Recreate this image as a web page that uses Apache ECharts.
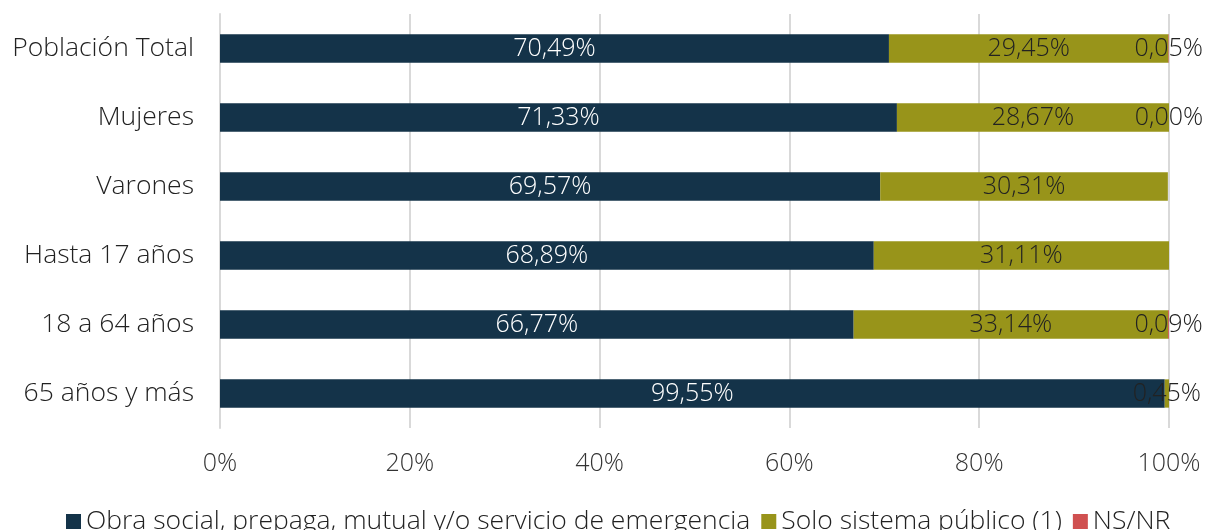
<!DOCTYPE html>
<html>
<head>
<meta charset="utf-8">
<script src="https://cdn.jsdelivr.net/npm/echarts@6/dist/echarts.min.js"></script>
<style>
  html, body { margin: 0; padding: 0; background: #fff; }
  #chart { width: 1208px; height: 530px; }
</style>
</head>
<body>
<div id="chart"></div>
<script>
    var categories = ['Población Total', 'Mujeres', 'Varones', 'Hasta 17 años', '18 a 64 años', '65 años y más'];
    var obraSocial = [70.49, 71.33, 69.57, 68.89, 66.77, 99.55];
    var soloPublico = [29.45, 28.67, 30.31, 31.11, 33.14, 0.45];
    var nsnr = [0.05, 0.00, null, null, 0.09, null];
    var tickLabels = ['0%', '20%', '40%', '60%', '80%', '100%'];

    var font = '"Open Sans", sans-serif';

    function pct(p) {
        return p.value.toFixed(2).replace('.', ',') + '%';
    }

    const option = {
        animation: false,
        textStyle: { fontFamily: font, fontWeight: 300 },
        grid: {
            left: 220,
            right: 39,
            top: 14,
            bottom: 102
        },
        legend: {
            left: 61,
            top: 503,
            itemWidth: 15,
            itemHeight: 15,
            itemGap: 11,
            icon: 'rect',
            textStyle: { fontFamily: font, fontWeight: 300, fontSize: 26.5, color: '#222' },
            data: ['Obra social, prepaga, mutual y/o servicio de emergencia', 'Solo sistema público (1)', 'NS/NR']
        },
        xAxis: {
            type: 'value',
            min: 0,
            max: 100,
            interval: 20,
            axisLine: { show: false },
            axisTick: { show: false },
            splitLine: { lineStyle: { color: '#d9d9d9', width: 2 } },
            axisLabel: {
                margin: 23,
                fontFamily: font,
                fontWeight: 300,
                fontSize: 25,
                color: '#333',
                formatter: function (v) { return tickLabels[v / 20]; }
            }
        },
        yAxis: {
            type: 'category',
            inverse: true,
            data: categories,
            axisLine: { show: true, lineStyle: { color: '#d9d9d9', width: 2 } },
            axisTick: { show: false },
            axisLabel: {
                margin: 26,
                fontFamily: font,
                fontWeight: 300,
                fontSize: 26.5,
                color: '#222'
            }
        },
        series: [
            {
                name: 'Obra social, prepaga, mutual y/o servicio de emergencia',
                type: 'bar',
                stack: 'total',
                barCategoryGap: '59%',
                itemStyle: { color: '#143349' },
                label: {
                    show: true,
                    position: 'inside',
                    color: '#fff',
                    fontFamily: font,
                    fontWeight: 300,
                    fontSize: 25,
                    formatter: pct
                },
                data: obraSocial
            },
            {
                name: 'Solo sistema público (1)',
                type: 'bar',
                stack: 'total',
                itemStyle: { color: '#98941a' },
                label: {
                    show: true,
                    position: 'inside',
                    color: '#222',
                    fontFamily: font,
                    fontWeight: 300,
                    fontSize: 25,
                    formatter: pct
                },
                data: soloPublico
            },
            {
                name: 'NS/NR',
                type: 'bar',
                stack: 'total',
                itemStyle: { color: '#d05050' },
                label: {
                    show: true,
                    position: 'inside',
                    color: '#222',
                    fontFamily: font,
                    fontWeight: 300,
                    fontSize: 25,
                    formatter: pct
                },
                data: nsnr
            }
        ]
    };

    const chart = echarts.init(document.getElementById('chart'));
    chart.setOption(option);
    window.addEventListener('resize', function () {
        chart.resize();
    });
</script>
</body>
</html>
